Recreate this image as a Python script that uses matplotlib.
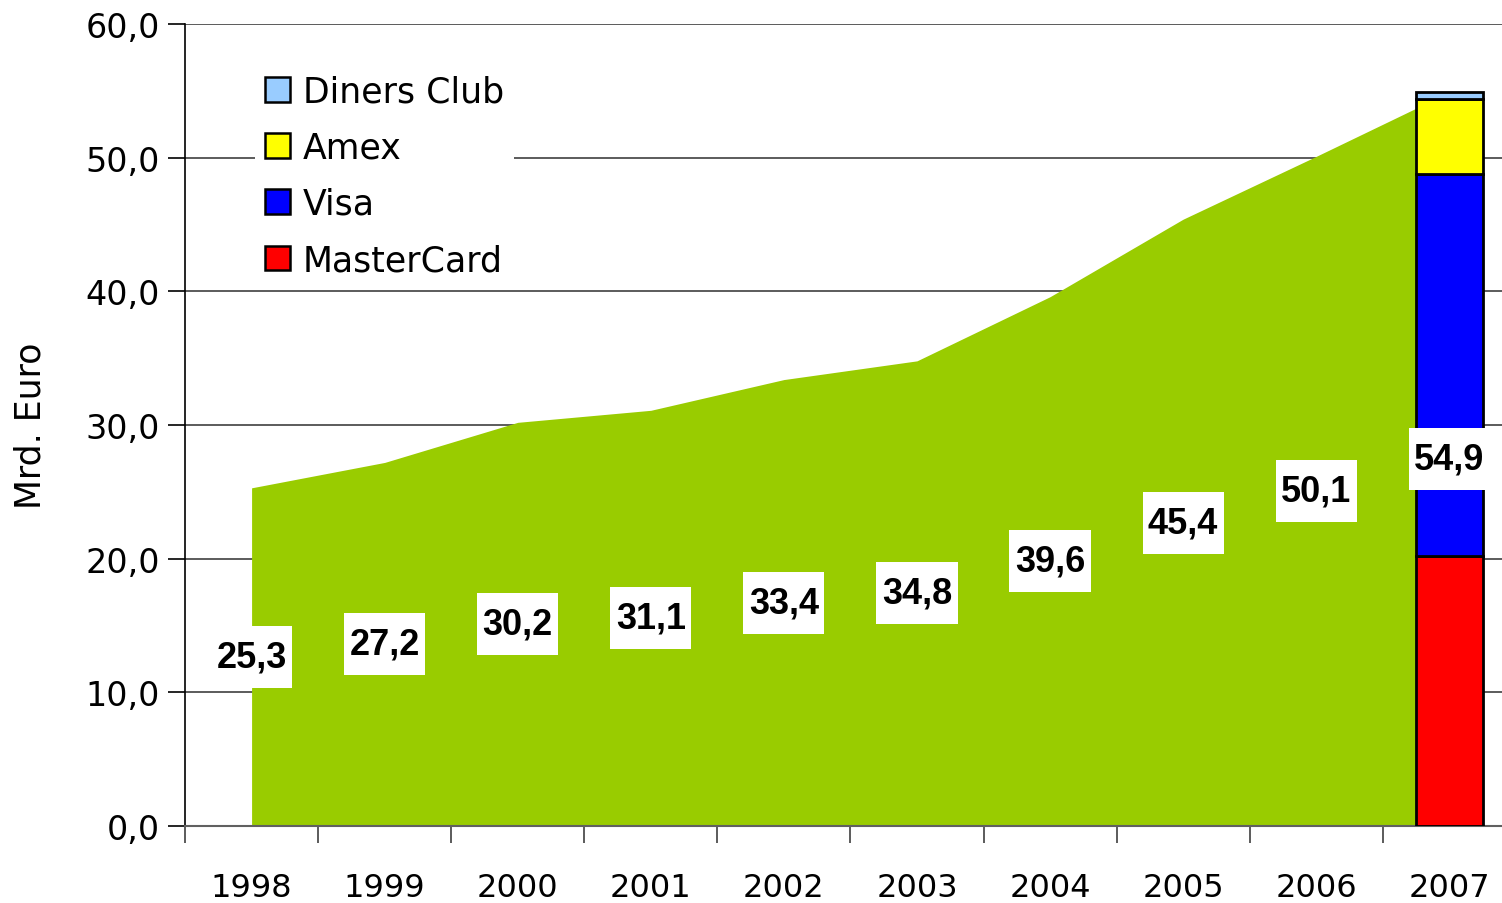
import numpy as np
import matplotlib.pyplot as plt
from matplotlib.patches import Patch, Rectangle

# data
jahre = ['1998', '1999', '2000', '2001', '2002', '2003', '2004', '2005', '2006', '2007']
umsatz = [25.3, 27.2, 30.2, 31.1, 33.4, 34.8, 39.6, 45.4, 50.1, 54.9]
karten = ['MasterCard', 'Visa', 'Amex', 'Diners Club']
anteil_2007 = [20.2, 28.6, 5.6, 0.5]
farben = ['#FF0000', '#0000FF', '#FFFF00', '#99CCFF']

plt.rcParams['font.family'] = ['DejaVu Sans']

fig = plt.figure(figsize=(15.02, 9.04), dpi=100)
ax = fig.add_axes([0.1232, 0.0852, 0.886, 0.8871])

x = np.arange(len(jahre))
ax.fill_between(x, umsatz, 0, color='#99CC00', lw=0, zorder=2)

# stacked bar 2007
unten = 0
for wert, farbe in zip(anteil_2007, farben):
    ax.bar(x[-1], wert, width=0.5, bottom=unten, color=farbe,
           edgecolor='black', linewidth=2, zorder=3)
    unten += wert

# value labels with white boxes (box size in category / value units)
bw, bh = 0.61, 4.65
for xi, v in zip(x, umsatz):
    ax.add_patch(Rectangle((xi - bw / 2, v / 2 - bh / 2), bw, bh,
                           fc='white', ec='none', zorder=4))
    ax.text(xi, v / 2, f'{v:.1f}'.replace('.', ','), ha='center', va='center',
            fontsize=26, fontweight='bold', family='Liberation Sans', zorder=5)

ax.set_ylim(0, 60)
ax.set_xlim(-0.5, len(jahre) - 0.5)
ax.set_yticks(np.arange(0, 61, 10))
ax.set_yticklabels([f'{v:.1f}'.replace('.', ',') for v in np.arange(0, 61, 10)], fontsize=24)
ax.yaxis.grid(True, color='#404040', lw=1.2, zorder=0)
ax.set_axisbelow(True)

ax.set_xticks(x)
ax.set_xticklabels(jahre, fontsize=23)
ax.set_xticks(np.arange(-0.5, len(jahre), 1), minor=True)
ax.tick_params(axis='x', which='major', length=0, pad=33)
ax.tick_params(axis='x', which='minor', length=12, width=1.2, color='#404040')
ax.tick_params(axis='y', length=12, width=1.2, direction='out', pad=6)

for s in ['top', 'right']:
    ax.spines[s].set_visible(False)
ax.spines['left'].set_linewidth(1.2)
ax.spines['bottom'].set_color('#606060')
ax.spines['bottom'].set_linewidth(1.5)

ax.set_ylabel('Mrd. Euro', fontsize=25)
ax.yaxis.set_label_coords(-0.103, 0.5)

handles = [Patch(facecolor=c, edgecolor='black', lw=1.8, label=k)
           for k, c in zip(karten, farben)][::-1]
leg = ax.legend(handles=handles, loc='upper left', bbox_to_anchor=(0.0526, 0.950),
                fontsize=25, frameon=True, framealpha=1, edgecolor='none',
                fancybox=False, handlelength=0.72, handleheight=0.72,
                handletextpad=0.35, labelspacing=0.64, borderpad=0.3,
                borderaxespad=0)
leg.set_zorder(6)

fig.savefig('out.png', dpi=100)
